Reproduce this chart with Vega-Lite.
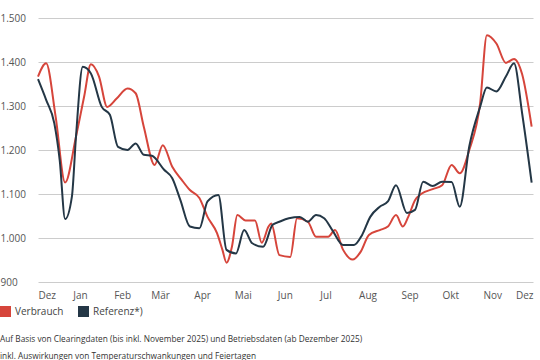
{
  "$schema": "https://vega.github.io/schema/vega-lite/v6.json",
  "width": 495,
  "height": 264,
  "autosize": {"type": "none"},
  "padding": {"left": 38, "top": 18, "right": 7, "bottom": 78},
  "config": {"font": "Open Sans", "view": {"stroke": null}},
  "title": {
    "text": ["Auf Basis von Clearingdaten (bis inkl. November 2025) und Betriebsdaten (ab Dezember 2025)", "inkl. Auswirkungen von Temperaturschwankungen und Feiertagen"],
    "orient": "bottom",
    "anchor": "start",
    "frame": "group",
    "dx": -38,
    "offset": 18,
    "fontSize": 8.3,
    "fontWeight": "normal",
    "color": "#333333",
    "lineHeight": 17
  },
  "data": {
    "values": [
      {"date": "2024-12-01", "reihe": "Verbrauch", "wert": 1367},
      {"date": "2024-12-07", "reihe": "Verbrauch", "wert": 1397},
      {"date": "2024-12-14", "reihe": "Verbrauch", "wert": 1276},
      {"date": "2024-12-21", "reihe": "Verbrauch", "wert": 1126},
      {"date": "2024-12-29", "reihe": "Verbrauch", "wert": 1230},
      {"date": "2025-01-04", "reihe": "Verbrauch", "wert": 1321},
      {"date": "2025-01-09", "reihe": "Verbrauch", "wert": 1395},
      {"date": "2025-01-15", "reihe": "Verbrauch", "wert": 1367},
      {"date": "2025-01-21", "reihe": "Verbrauch", "wert": 1298},
      {"date": "2025-01-28", "reihe": "Verbrauch", "wert": 1317},
      {"date": "2025-02-05", "reihe": "Verbrauch", "wert": 1340},
      {"date": "2025-02-11", "reihe": "Verbrauch", "wert": 1329},
      {"date": "2025-02-17", "reihe": "Verbrauch", "wert": 1253},
      {"date": "2025-02-25", "reihe": "Verbrauch", "wert": 1166},
      {"date": "2025-03-03", "reihe": "Verbrauch", "wert": 1211},
      {"date": "2025-03-10", "reihe": "Verbrauch", "wert": 1162},
      {"date": "2025-03-17", "reihe": "Verbrauch", "wert": 1132},
      {"date": "2025-03-23", "reihe": "Verbrauch", "wert": 1109},
      {"date": "2025-03-30", "reihe": "Verbrauch", "wert": 1091},
      {"date": "2025-04-05", "reihe": "Verbrauch", "wert": 1048},
      {"date": "2025-04-12", "reihe": "Verbrauch", "wert": 1011},
      {"date": "2025-04-16", "reihe": "Verbrauch", "wert": 973},
      {"date": "2025-04-19", "reihe": "Verbrauch", "wert": 944},
      {"date": "2025-04-23", "reihe": "Verbrauch", "wert": 980},
      {"date": "2025-04-27", "reihe": "Verbrauch", "wert": 1052},
      {"date": "2025-05-03", "reihe": "Verbrauch", "wert": 1040},
      {"date": "2025-05-10", "reihe": "Verbrauch", "wert": 1040},
      {"date": "2025-05-15", "reihe": "Verbrauch", "wert": 989},
      {"date": "2025-05-20", "reihe": "Verbrauch", "wert": 1026},
      {"date": "2025-05-22", "reihe": "Verbrauch", "wert": 1033},
      {"date": "2025-05-28", "reihe": "Verbrauch", "wert": 961},
      {"date": "2025-06-05", "reihe": "Verbrauch", "wert": 957},
      {"date": "2025-06-10", "reihe": "Verbrauch", "wert": 1045},
      {"date": "2025-06-18", "reihe": "Verbrauch", "wert": 1037},
      {"date": "2025-06-24", "reihe": "Verbrauch", "wert": 1003},
      {"date": "2025-07-03", "reihe": "Verbrauch", "wert": 1003},
      {"date": "2025-07-08", "reihe": "Verbrauch", "wert": 1018},
      {"date": "2025-07-14", "reihe": "Verbrauch", "wert": 973},
      {"date": "2025-07-21", "reihe": "Verbrauch", "wert": 951},
      {"date": "2025-07-27", "reihe": "Verbrauch", "wert": 969},
      {"date": "2025-08-02", "reihe": "Verbrauch", "wert": 1007},
      {"date": "2025-08-10", "reihe": "Verbrauch", "wert": 1018},
      {"date": "2025-08-16", "reihe": "Verbrauch", "wert": 1026},
      {"date": "2025-08-22", "reihe": "Verbrauch", "wert": 1052},
      {"date": "2025-08-27", "reihe": "Verbrauch", "wert": 1026},
      {"date": "2025-08-31", "reihe": "Verbrauch", "wert": 1048},
      {"date": "2025-09-05", "reihe": "Verbrauch", "wert": 1086},
      {"date": "2025-09-10", "reihe": "Verbrauch", "wert": 1101},
      {"date": "2025-09-18", "reihe": "Verbrauch", "wert": 1111},
      {"date": "2025-09-25", "reihe": "Verbrauch", "wert": 1120},
      {"date": "2025-10-02", "reihe": "Verbrauch", "wert": 1166},
      {"date": "2025-10-08", "reihe": "Verbrauch", "wert": 1147},
      {"date": "2025-10-15", "reihe": "Verbrauch", "wert": 1200},
      {"date": "2025-10-23", "reihe": "Verbrauch", "wert": 1306},
      {"date": "2025-10-28", "reihe": "Verbrauch", "wert": 1461},
      {"date": "2025-11-04", "reihe": "Verbrauch", "wert": 1442},
      {"date": "2025-11-11", "reihe": "Verbrauch", "wert": 1398},
      {"date": "2025-11-17", "reihe": "Verbrauch", "wert": 1407},
      {"date": "2025-11-23", "reihe": "Verbrauch", "wert": 1372},
      {"date": "2025-11-30", "reihe": "Verbrauch", "wert": 1253},
      {"date": "2024-12-01", "reihe": "Referenz*)", "wert": 1361},
      {"date": "2024-12-07", "reihe": "Referenz*)", "wert": 1314},
      {"date": "2024-12-13", "reihe": "Referenz*)", "wert": 1261},
      {"date": "2024-12-17", "reihe": "Referenz*)", "wert": 1177},
      {"date": "2024-12-21", "reihe": "Referenz*)", "wert": 1043},
      {"date": "2024-12-26", "reihe": "Referenz*)", "wert": 1094},
      {"date": "2024-12-29", "reihe": "Referenz*)", "wert": 1230},
      {"date": "2025-01-03", "reihe": "Referenz*)", "wert": 1389},
      {"date": "2025-01-09", "reihe": "Referenz*)", "wert": 1374},
      {"date": "2025-01-17", "reihe": "Referenz*)", "wert": 1298},
      {"date": "2025-01-23", "reihe": "Referenz*)", "wert": 1280},
      {"date": "2025-01-29", "reihe": "Referenz*)", "wert": 1207},
      {"date": "2025-02-05", "reihe": "Referenz*)", "wert": 1200},
      {"date": "2025-02-11", "reihe": "Referenz*)", "wert": 1215},
      {"date": "2025-02-17", "reihe": "Referenz*)", "wert": 1189},
      {"date": "2025-02-23", "reihe": "Referenz*)", "wert": 1187},
      {"date": "2025-03-04", "reihe": "Referenz*)", "wert": 1155},
      {"date": "2025-03-10", "reihe": "Referenz*)", "wert": 1136},
      {"date": "2025-03-16", "reihe": "Referenz*)", "wert": 1086},
      {"date": "2025-03-23", "reihe": "Referenz*)", "wert": 1026},
      {"date": "2025-03-30", "reihe": "Referenz*)", "wert": 1022},
      {"date": "2025-04-05", "reihe": "Referenz*)", "wert": 1083},
      {"date": "2025-04-13", "reihe": "Referenz*)", "wert": 1098},
      {"date": "2025-04-19", "reihe": "Referenz*)", "wert": 973},
      {"date": "2025-04-26", "reihe": "Referenz*)", "wert": 965},
      {"date": "2025-05-02", "reihe": "Referenz*)", "wert": 1018},
      {"date": "2025-05-08", "reihe": "Referenz*)", "wert": 988},
      {"date": "2025-05-16", "reihe": "Referenz*)", "wert": 980},
      {"date": "2025-05-23", "reihe": "Referenz*)", "wert": 1030},
      {"date": "2025-05-28", "reihe": "Referenz*)", "wert": 1037},
      {"date": "2025-06-04", "reihe": "Referenz*)", "wert": 1045},
      {"date": "2025-06-12", "reihe": "Referenz*)", "wert": 1048},
      {"date": "2025-06-18", "reihe": "Referenz*)", "wert": 1037},
      {"date": "2025-06-24", "reihe": "Referenz*)", "wert": 1052},
      {"date": "2025-06-30", "reihe": "Referenz*)", "wert": 1045},
      {"date": "2025-07-06", "reihe": "Referenz*)", "wert": 1018},
      {"date": "2025-07-14", "reihe": "Referenz*)", "wert": 984},
      {"date": "2025-07-22", "reihe": "Referenz*)", "wert": 984},
      {"date": "2025-07-28", "reihe": "Referenz*)", "wert": 1007},
      {"date": "2025-08-03", "reihe": "Referenz*)", "wert": 1048},
      {"date": "2025-08-10", "reihe": "Referenz*)", "wert": 1071},
      {"date": "2025-08-16", "reihe": "Referenz*)", "wert": 1083},
      {"date": "2025-08-22", "reihe": "Referenz*)", "wert": 1120},
      {"date": "2025-08-30", "reihe": "Referenz*)", "wert": 1057},
      {"date": "2025-09-05", "reihe": "Referenz*)", "wert": 1064},
      {"date": "2025-09-11", "reihe": "Referenz*)", "wert": 1128},
      {"date": "2025-09-18", "reihe": "Referenz*)", "wert": 1118},
      {"date": "2025-09-25", "reihe": "Referenz*)", "wert": 1128},
      {"date": "2025-10-02", "reihe": "Referenz*)", "wert": 1127},
      {"date": "2025-10-08", "reihe": "Referenz*)", "wert": 1071},
      {"date": "2025-10-15", "reihe": "Referenz*)", "wert": 1208},
      {"date": "2025-10-23", "reihe": "Referenz*)", "wert": 1298},
      {"date": "2025-10-28", "reihe": "Referenz*)", "wert": 1342},
      {"date": "2025-11-04", "reihe": "Referenz*)", "wert": 1333},
      {"date": "2025-11-11", "reihe": "Referenz*)", "wert": 1367},
      {"date": "2025-11-17", "reihe": "Referenz*)", "wert": 1397},
      {"date": "2025-11-23", "reihe": "Referenz*)", "wert": 1283},
      {"date": "2025-11-30", "reihe": "Referenz*)", "wert": 1126}
    ]
  },
  "mark": {"type": "line", "interpolate": "monotone", "strokeWidth": 2},
  "encoding": {
    "x": {
      "field": "date",
      "type": "temporal",
      "scale": {"type": "utc", "domain": [{"year": 2024, "month": 12, "date": 1, "utc": true}, {"year": 2025, "month": 12, "date": 1, "utc": true}]},
      "axis": {
        "title": null,
        "grid": false,
        "domain": false,
        "ticks": false,
        "labelFlush": true,
        "labelPadding": 8,
        "labelFontSize": 10,
        "labelColor": "#555555",
        "values": [
          {"year": 2024, "month": 12, "date": 1, "utc": true},
          {"year": 2025, "month": 1, "date": 1, "utc": true},
          {"year": 2025, "month": 2, "date": 1, "utc": true},
          {"year": 2025, "month": 3, "date": 1, "utc": true},
          {"year": 2025, "month": 4, "date": 1, "utc": true},
          {"year": 2025, "month": 5, "date": 1, "utc": true},
          {"year": 2025, "month": 6, "date": 1, "utc": true},
          {"year": 2025, "month": 7, "date": 1, "utc": true},
          {"year": 2025, "month": 8, "date": 1, "utc": true},
          {"year": 2025, "month": 9, "date": 1, "utc": true},
          {"year": 2025, "month": 10, "date": 1, "utc": true},
          {"year": 2025, "month": 11, "date": 1, "utc": true},
          {"year": 2025, "month": 12, "date": 1, "utc": true}
        ],
        "labelExpr": "['Jan','Feb','Mär','Apr','Mai','Jun','Jul','Aug','Sep','Okt','Nov','Dez'][utcmonth(datum.value)]"
      }
    },
    "y": {
      "field": "wert",
      "type": "quantitative",
      "scale": {"domain": [900, 1500], "nice": false, "zero": false},
      "axis": {
        "title": null,
        "values": [900, 1000, 1100, 1200, 1300, 1400, 1500],
        "domain": false,
        "ticks": false,
        "gridColor": "#cccccc",
        "gridWidth": 1,
        "labelAlign": "left",
        "labelPadding": 38,
        "labelFontSize": 10,
        "labelColor": "#555555",
        "labelExpr": "replace(format(datum.value, ','), ',', '.')"
      }
    },
    "color": {
      "field": "reihe",
      "type": "nominal",
      "sort": ["Verbrauch", "Referenz*)"],
      "scale": {"domain": ["Verbrauch", "Referenz*)"], "range": ["#d6453b", "#243746"]},
      "legend": {
        "title": null,
        "orient": "none",
        "direction": "horizontal",
        "legendX": -38,
        "legendY": 288,
        "symbolType": "square",
        "symbolSize": 121,
        "symbolStrokeWidth": 0,
        "labelFontSize": 10,
        "labelColor": "#444444",
        "labelOffset": 4,
        "columnPadding": 14,
        "encode": {"symbols": {"update": {"fill": {"scale": "color", "field": "value"}, "fillOpacity": {"value": 1}}}}
      }
    }
  }
}
